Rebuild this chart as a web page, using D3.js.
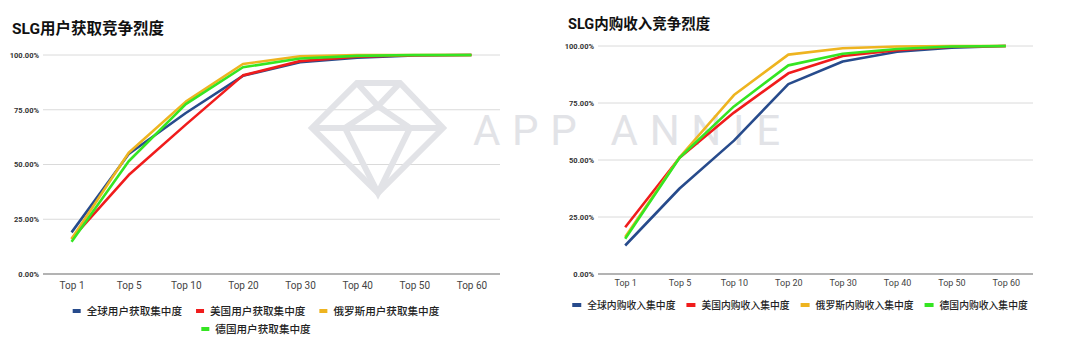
<!DOCTYPE html>
<html>
<head>
<meta charset="utf-8">
<script src="https://cdn.jsdelivr.net/npm/d3@7"></script>
<style>
  html, body { margin: 0; padding: 0; background: #fff; }
  svg { display: block; }
  text { font-family: Roboto, "Noto Sans CJK SC", sans-serif; }
</style>
</head>
<body>
<svg id="chart" width="1080" height="348"></svg>
<script>
// ---------- data ----------
const categories = ["Top 1", "Top 5", "Top 10", "Top 20", "Top 30", "Top 40", "Top 50", "Top 60"];
const yTicks = [0, 0.25, 0.5, 0.75, 1];
const seriesColors = ["#274b8c", "#f01c1c", "#eeb420", "#35e522"];

const uaTitle = "SLG用户获取竞争烈度";
const uaNames = ["全球用户获取集中度", "美国用户获取集中度", "俄罗斯用户获取集中度", "德国用户获取集中度"];
const uaGlobal = [0.19, 0.548, 0.735, 0.905, 0.967, 0.988, 0.998, 1];
const uaUS     = [0.16, 0.452, 0.682, 0.907, 0.972, 0.992, 0.999, 1];
const uaRU     = [0.16, 0.554, 0.787, 0.959, 0.994, 1, 1, 1];
const uaDE     = [0.147, 0.515, 0.776, 0.944, 0.984, 0.996, 1, 1];

const iapTitle = "SLG内购收入竞争烈度";
const iapNames = ["全球内购收入集中度", "美国内购收入集中度", "俄罗斯内购收入集中度", "德国内购收入集中度"];
const iapGlobal = [0.125, 0.375, 0.585, 0.833, 0.932, 0.975, 0.993, 1];
const iapUS     = [0.205, 0.51, 0.708, 0.88, 0.956, 0.982, 0.997, 1];
const iapRU     = [0.162, 0.512, 0.785, 0.962, 0.99, 0.998, 1, 1];
const iapDE     = [0.155, 0.51, 0.735, 0.915, 0.966, 0.987, 0.998, 1];

// ---------- drawing ----------
const svg = d3.select("#chart");

function drawWatermark() {
  const g = svg.append("g").attr("class", "watermark")
    .attr("fill", "none").attr("stroke", "#e2e3e7").attr("stroke-width", 6)
    .attr("stroke-linejoin", "miter");
  const outer = [[357, 83], [400, 83], [443, 128], [378, 193], [312, 128]];
  g.append("path").attr("d", d3.line()(outer) + "Z");
  g.append("path").attr("d", d3.line()([[312, 128], [443, 128]]));
  g.append("path").attr("d", d3.line()([[357, 83], [378, 106], [400, 83]]));
  g.append("path").attr("d", d3.line()([[345, 128], [378, 106], [410, 128]]));
  g.append("path").attr("d", d3.line()([[345, 128], [378, 193], [410, 128]]));
  svg.append("text")
    .attr("x", 473).attr("y", 145)
    .attr("font-size", 42).attr("font-weight", 400)
    .attr("fill", "#e2e3e7")
    .attr("textLength", 307).attr("lengthAdjust", "spacing")
    .style("font-family", "Roboto, sans-serif")
    .text("APP ANNIE");
}

function drawChart(cfg) {
  const g = svg.append("g");
  const x = d3.scalePoint().domain(categories).range([cfg.left, cfg.right]).padding(0.5);
  const y = d3.scaleLinear().domain([0, 1]).range([cfg.bottom, cfg.top]);

  // title
  g.append("text")
    .attr("x", cfg.titleX).attr("y", cfg.titleY)
    .attr("font-size", cfg.titleSize).attr("font-weight", "bold").attr("fill", "#111")
    .text(cfg.title);

  // gridlines
  g.append("g").selectAll("line").data(yTicks.filter(d => d > 0)).join("line")
    .attr("x1", cfg.left).attr("x2", cfg.right)
    .attr("y1", d => y(d)).attr("y2", d => y(d))
    .attr("stroke", "#dadada").attr("stroke-width", 1);
  g.append("line")
    .attr("x1", cfg.left).attr("x2", cfg.right)
    .attr("y1", y(0)).attr("y2", y(0))
    .attr("stroke", "#9a9a9a").attr("stroke-width", 1.5);

  // y axis labels
  const yAxis = g.append("g")
    .attr("transform", `translate(${cfg.left - 4},0)`)
    .call(d3.axisLeft(y).tickValues(yTicks).tickFormat(d3.format(".2%")).tickSize(0).tickPadding(0));
  yAxis.select(".domain").remove();
  yAxis.selectAll("text")
    .attr("font-size", cfg.yFont).attr("font-weight", "bold").attr("fill", "#333")
    .style("font-family", "Roboto, sans-serif");

  // x axis labels
  const xAxis = g.append("g")
    .attr("transform", `translate(0,${cfg.bottom})`)
    .call(d3.axisBottom(x).tickSize(0).tickPadding(cfg.xPad));
  xAxis.select(".domain").remove();
  xAxis.selectAll("text")
    .attr("font-size", cfg.xFont).attr("fill", "#444")
    .style("font-family", "Roboto, sans-serif");

  if (cfg.watermark) cfg.watermark();

  // lines
  const line = d3.line().x((d, i) => x(categories[i])).y(d => y(d));
  g.append("g").selectAll("path").data(cfg.series).join("path")
    .attr("d", d => line(d))
    .attr("fill", "none")
    .attr("stroke", (d, i) => seriesColors[i])
    .attr("stroke-width", 2.6)
    .attr("stroke-linejoin", "round");

  // legend (flow layout, centered)
  const lg = svg.append("g");
  const items = cfg.names.map((name, i) => {
    const it = lg.append("g");
    it.append("rect").attr("x", 0).attr("y", -2).attr("width", cfg.swW).attr("height", 4)
      .attr("fill", seriesColors[i]);
    const t = it.append("text").attr("x", cfg.swW + cfg.swGap).attr("y", 0).attr("dy", "0.36em")
      .attr("font-size", cfg.legFont).attr("font-weight", 500).attr("fill", "#222")
      .style("font-family", "'Noto Sans CJK SC', sans-serif")
      .text(name);
    const w = cfg.swW + cfg.swGap + t.node().getComputedTextLength();
    return { it, w };
  });
  const rows = [];
  let cur = [], curW = 0;
  items.forEach(o => {
    const add = (cur.length ? cfg.itemGap : 0) + o.w;
    if (cur.length && curW + add > cfg.legMax) { rows.push({ items: cur, w: curW }); cur = []; curW = 0; }
    curW += (cur.length ? cfg.itemGap : 0) + o.w;
    cur.push(o);
  });
  if (cur.length) rows.push({ items: cur, w: curW });
  rows.forEach((r, ri) => {
    let xx = cfg.legCenter - r.w / 2;
    r.items.forEach(o => {
      o.it.attr("transform", `translate(${xx},${cfg.legY + ri * cfg.legRowH})`);
      xx += o.w + cfg.itemGap;
    });
  });
}

drawChart({
  title: uaTitle, titleX: 12, titleY: 34, titleSize: 15.5,
  left: 43, right: 500, top: 55, bottom: 274,
  yFont: 7.5, xFont: 10, xPad: 8,
  series: [uaGlobal, uaUS, uaRU, uaDE], names: uaNames,
  swW: 8, swGap: 6, itemGap: 14, legFont: 10.6, legMax: 420,
  legCenter: 256, legY: 311, legRowH: 18,
  watermark: drawWatermark
});

drawChart({
  title: iapTitle, titleX: 568, titleY: 29, titleSize: 14.5,
  left: 598, right: 1033, top: 46, bottom: 274,
  yFont: 7.5, xFont: 9, xPad: 6,
  series: [iapGlobal, iapUS, iapRU, iapDE], names: iapNames,
  swW: 9, swGap: 6, itemGap: 11, legFont: 9.8, legMax: 520,
  legCenter: 800, legY: 305, legRowH: 18
});
</script>
</body>
</html>
